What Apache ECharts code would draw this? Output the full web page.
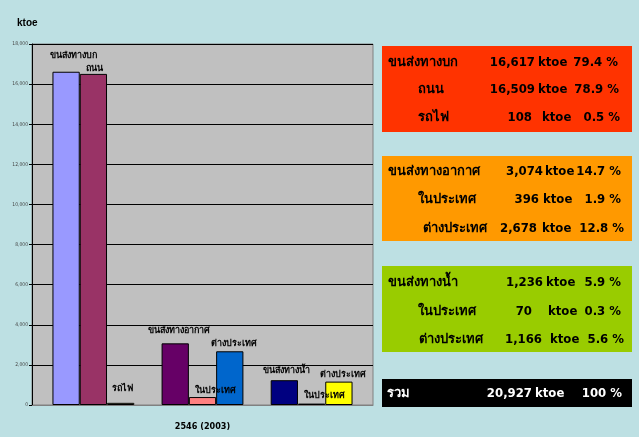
<!DOCTYPE html>
<html lang="th">
<head>
<meta charset="UTF-8" />
<title>Transport energy 2546</title>
<script src="https://cdn.jsdelivr.net/npm/echarts@6/dist/echarts.min.js"></script>
<style>
  html, body { margin: 0; padding: 0; background: #bde0e3; }
  #main { width: 639px; height: 437px; }
</style>
</head>
<body>
<div id="main"></div>
<script>
// chart data (ktoe)
const category = ["2546 (2003)"];
const barNames = ["ขนส่งทางบก", "ถนน", "รถไฟ", "", "ขนส่งทางอากาศ", "ในประเทศ", "ต่างประเทศ", "", "ขนส่งทางน้ำ", "ในประเทศ", "ต่างประเทศ"];
const barValues = [16617, 16509, 108, null, 3074, 396, 2678, null, 1236, 70, 1166];

// summary boxes on the right
const boxNames = [
  ["ขนส่งทางบก", "ถนน", "รถไฟ"],
  ["ขนส่งทางอากาศ", "ในประเทศ", "ต่างประเทศ"],
  ["ขนส่งทางน้ำ", "ในประเทศ", "ต่างประเทศ"],
  ["รวม"]
];
const boxNumbers = [
  ["16,617", "16,509", "108"],
  ["3,074", "396", "2,678"],
  ["1,236", "70", "1,166"],
  ["20,927"]
];
const boxPercents = [
  ["79.4 %", "78.9 %", "0.5 %"],
  ["14.7 %", "1.9 %", "12.8 %"],
  ["5.9 %", "0.3 %", "5.6 %"],
  ["100 %"]
];
const unit = "ktoe";

// styling
const barColors = ["#9999ff", "#993366", "#e8e0a0", "#ccffff", "#660066", "#ff8080", "#0066cc", "#ccccff", "#000080", "#330033", "#ffff00"];
const labelOffsets = [[7, -7], [1, 4], [2, -5], [0, 0], [4, -3], [13, 3], [4, 2], [0, 0], [2, 0], [13, 2], [4, 3]];
const boxStyle = [
  { color: "#ff3300", y: 46, h: 86, rows: [63, 90, 118], nameX: [388, 418, 418],
    numR: [535, 535, 532], unitX: [538, 538, 542], pctR: [618, 619, 620], text: "#000" },
  { color: "#ff9900", y: 156, h: 85, rows: [172, 200, 229], nameX: [388, 418, 423],
    numR: [543, 539, 537], unitX: [545, 543, 542], pctR: [621, 621, 624], text: "#000" },
  { color: "#99cc00", y: 266, h: 86, rows: [283, 312, 340], nameX: [388, 418, 419],
    numR: [543, 532, 542], unitX: [546, 548, 550], pctR: [621, 621, 624], text: "#000" },
  { color: "#000000", y: 379, h: 28, rows: [394], nameX: [387],
    numR: [532], unitX: [535], pctR: [622], text: "#fff" }
];
const font = '"DejaVu Sans Condensed", "DejaVu Sans", sans-serif';
const boxFont = 'bold 13px "DejaVu Sans Condensed", "DejaVu Sans", sans-serif';

const chart = echarts.init(document.getElementById("main"));

const series = barValues.map((v, i) => ({
  name: barNames[i] || ("blank" + i),
  type: "bar",
  data: [v],
  barGap: "0%",
  barCategoryGap: "12%",
  itemStyle: { color: barColors[i], borderColor: "#000", borderWidth: 1 },
  label: {
    show: barNames[i] !== "",
    position: "top",
    offset: labelOffsets[i],
    formatter: barNames[i],
    fontFamily: font,
    fontSize: 9,
    fontWeight: "bold",
    color: "#000"
  }
}));

const graphic = [{
  type: "text", left: 17, top: 18,
  style: { text: "ktoe", font: 'bold 10px "Liberation Sans", Arial, sans-serif', fill: "#000" }
}];
boxStyle.forEach((b, i) => {
  graphic.push({
    type: "rect",
    shape: { x: 382, y: b.y, width: 250, height: b.h },
    style: { fill: b.color }
  });
  boxNames[i].forEach((n, j) => {
    const y = b.rows[j];
    graphic.push({
      type: "text", x: b.nameX[j], y: y,
      style: { text: n, font: boxFont, fill: b.text, verticalAlign: "middle", align: "left" }
    });
    graphic.push({
      type: "text", x: b.numR[j], y: y,
      style: { text: boxNumbers[i][j], font: boxFont, fill: b.text, verticalAlign: "middle", align: "right" }
    });
    graphic.push({
      type: "text", x: b.unitX[j], y: y,
      style: { text: unit, font: boxFont, fill: b.text, verticalAlign: "middle", align: "left" }
    });
    graphic.push({
      type: "text", x: b.pctR[j], y: y,
      style: { text: boxPercents[i][j], font: boxFont, fill: b.text, verticalAlign: "middle", align: "right" }
    });
  });
});

chart.setOption({
  backgroundColor: "#bde0e3",
  animation: false,
  grid: {
    left: 32, right: 266, top: 44, bottom: 32,
    show: true, backgroundColor: "#c0c0c0", borderColor: "#808080", borderWidth: 1
  },
  xAxis: {
    type: "category",
    data: category,
    axisTick: { show: false },
    axisLine: { lineStyle: { color: "#808080" } },
    axisLabel: { margin: 17, fontFamily: font, fontSize: 9, fontWeight: "bold", color: "#000" }
  },
  yAxis: {
    type: "value",
    min: 0, max: 18000, interval: 2000,
    axisLine: { show: true, lineStyle: { color: "#000" } },
    axisTick: { show: true, length: 3, lineStyle: { color: "#000" } },
    splitLine: { lineStyle: { color: "#000", width: 1 } },
    axisLabel: {
      margin: 4, fontSize: 5, color: "#444", fontFamily: font,
      formatter: v => v.toLocaleString("en-US")
    }
  },
  series: series,
  graphic: graphic
});
</script>
</body>
</html>
